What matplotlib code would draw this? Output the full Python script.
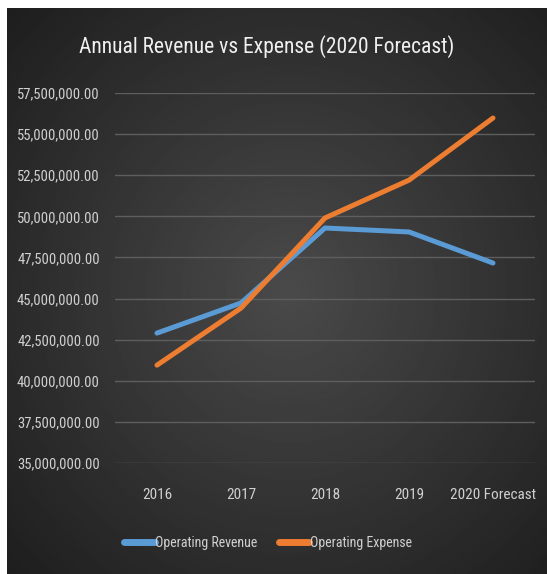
import numpy as np
import matplotlib.pyplot as plt
from matplotlib.ticker import FuncFormatter, MultipleLocator

years = ['2016', '2017', '2018', '2019', '2020 Forecast']
revenue = [42900000, 44730000, 49290000, 49050000, 47160000]
expense = [40950000, 44420000, 49900000, 52200000, 55980000]

plt.rcParams['font.family'] = ['Roboto Condensed', 'Liberation Sans Narrow',
                               'DejaVu Sans Condensed', 'DejaVu Sans']
plt.rcParams['font.stretch'] = 'condensed'

fig = plt.figure(figsize=(5.47, 5.74), dpi=100)
fig.patch.set_facecolor('white')

# dark radial gradient behind the chart
bg = fig.add_axes([7 / 547, 0, 540 / 547, 1 - 8 / 574])
yy, xx = np.mgrid[-1:1:300j, -1:1:300j]
r = np.sqrt(((xx - 0.05) / 1.1) ** 2 + ((yy - 0.0) / 1.1) ** 2)
shade = 0.29 - 0.13 * np.clip(r, 0, 1.3)
bg.imshow(shade, cmap='gray', vmin=0, vmax=1, aspect='auto',
          extent=[0, 1, 0, 1], interpolation='bilinear')
bg.set_axis_off()

ax = fig.add_axes([115 / 547, 1 - 463 / 574, 420 / 547, 370 / 574])
ax.patch.set_alpha(0)
x = np.arange(len(years))
ax.plot(x, revenue, color='#5b9bd5', lw=3.6, solid_capstyle='round',
        solid_joinstyle='round', label='Operating Revenue', zorder=3)
ax.plot(x, expense, color='#ed7d31', lw=3.6, solid_capstyle='round',
        solid_joinstyle='round', label='Operating Expense', zorder=4)

ax.set_xlim(-0.5, len(years) - 0.5)
ax.set_ylim(35000000, 57500000)
ax.yaxis.set_major_locator(MultipleLocator(2500000))
ax.yaxis.set_major_formatter(FuncFormatter(lambda v, p: f'{v:,.2f}'))
ax.set_xticks(x)
ax.set_xticklabels(years)
ax.grid(axis='y', color='#5e5e5e', lw=1)
ax.set_axisbelow(True)
for s in ax.spines.values():
    s.set_visible(False)
ax.tick_params(length=0, colors='#d0d0d0', labelsize=11)
ax.tick_params(axis='y', labelsize=10.5, pad=11)
ax.tick_params(axis='x', pad=18)

fig.text(267 / 547, 1 - 47 / 574, 'Annual Revenue vs Expense (2020 Forecast)',
         ha='center', va='center', color='#f0f0f0', fontsize=15.5)

leg = fig.legend(loc='center', bbox_to_anchor=(268 / 547, 1 - 543 / 574), ncol=2,
                 frameon=False, handlelength=2.2, handletextpad=0.05,
                 columnspacing=1.5, fontsize=10)
for h in leg.get_lines():
    h.set_linewidth(5)
for t in leg.get_texts():
    t.set_color('#d0d0d0')

fig.savefig('out.png', dpi=100, facecolor='white')
